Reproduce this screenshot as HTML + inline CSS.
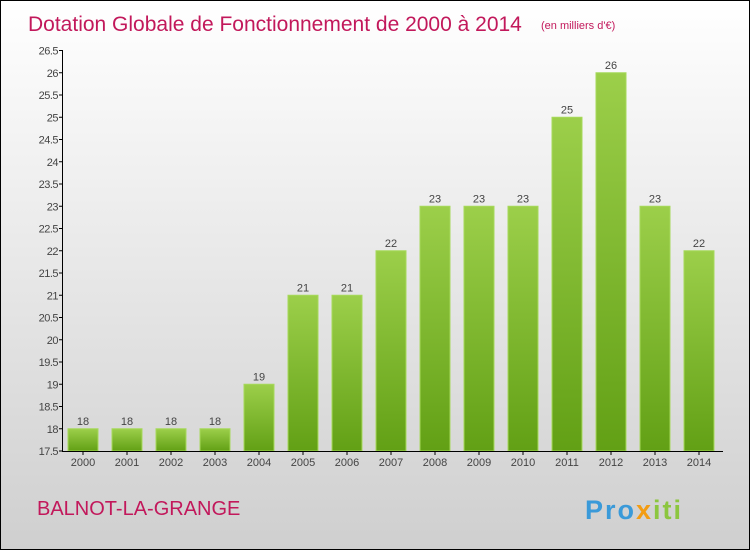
<!DOCTYPE html>
<html><head><meta charset="utf-8"><style>
body{margin:0;}
#c{width:750px;height:550px;position:relative;overflow:hidden;box-sizing:border-box;border:1px solid #000;background:linear-gradient(#ffffff,#cfcfcf);font-family:"Liberation Sans",sans-serif;}
svg{position:absolute;left:0;top:0}
</style></head><body>
<div id="c">
<svg id="s" width="750" height="550">
<text x="27" y="30" font-size="21" fill="#c2185b" style="font-weight:300">Dotation Globale de Fonctionnement de 2000 à 2014</text>
<text x="540" y="28" font-size="11" fill="#c2185b">(en milliers d'€)</text>
<text x="36" y="514" font-size="20" fill="#c2185b">BALNOT-LA-GRANGE</text>
<text x="584" y="518" font-size="27" font-weight="bold" letter-spacing="2" fill="#3a9ad9">Pro<tspan fill="#f39c12">x</tspan><tspan fill="#8cc63f">iti</tspan></text>
</svg>
</div>
<script>
const years=["2000","2001","2002","2003","2004","2005","2006","2007","2008","2009","2010","2011","2012","2013","2014"];
const values=[18,18,18,18,19,21,21,22,23,23,23,25,26,23,22];
const labels=["18","18","18","18","19","21","21","22","23","23","23","25","26","23","22"];
const ticks=[17.5,18,18.5,19,19.5,20,20.5,21,21.5,22,22.5,23,23.5,24,24.5,25,25.5,26,26.5];
const ns="http://www.w3.org/2000/svg",s=document.getElementById('s');
const y=v=>450-(v-17.5)*44.5, x=i=>82+i*44;
function mk(t,a){const e=document.createElementNS(ns,t);for(const k in a)e.setAttribute(k,a[k]);s.appendChild(e);return e;}
const d=mk('defs',{});d.innerHTML='<linearGradient id="g" x1="0" y1="0" x2="0" y2="1"><stop offset="0" stop-color="#9ccf4a"/><stop offset="1" stop-color="#62a015"/></linearGradient>';
values.forEach((v,i)=>{
 const r=mk('rect',{x:x(i)-15,y:y(v),width:30,height:450-y(v),fill:'url(#g)',stroke:'#a6d95a','stroke-width':1});
 
 
 const t=mk('text',{x:x(i),y:y(v)-4,'font-size':11,fill:'#444','text-anchor':'middle'});t.textContent=labels[i];
 
 
 const xl=mk('text',{x:x(i),y:465,'font-size':11,fill:'#444','text-anchor':'middle'});xl.textContent=years[i];
 
 
 mk('line',{x1:x(i),x2:x(i),y1:450,y2:454,stroke:'#000'});
});
ticks.forEach(v=>{
 mk('line',{x1:58,x2:62,y1:y(v),y2:y(v),stroke:'#000'});
 const t=mk('text',{x:57,y:y(v)+4,'font-size':11,fill:'#444','text-anchor':'end','letter-spacing':'-0.5'});t.textContent=v;
 
 
});
const ax=mk('path',{d:'M61.5 49V450.5H722',stroke:'#000',fill:'none'});


</script>
</body></html>
